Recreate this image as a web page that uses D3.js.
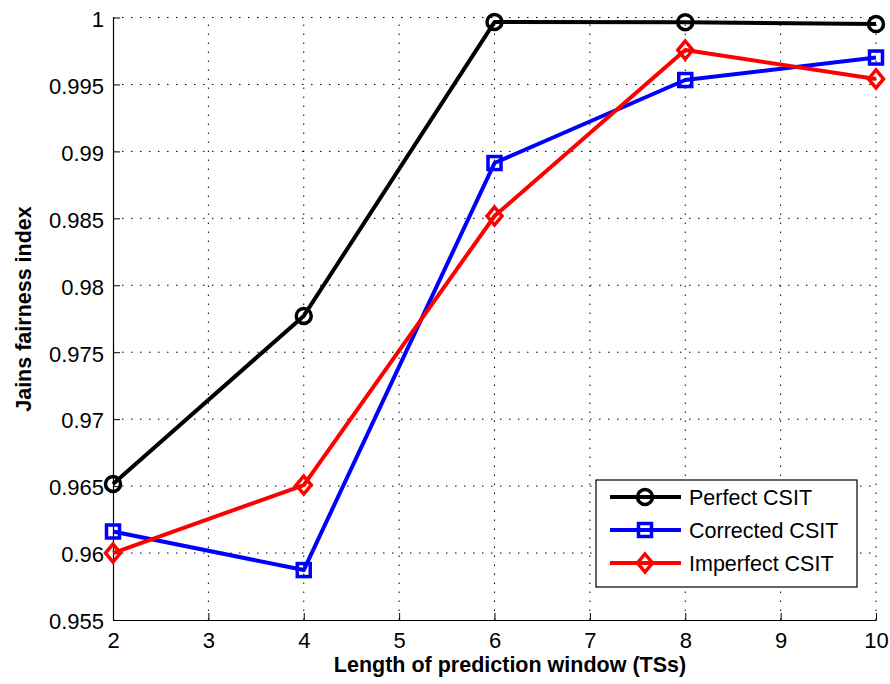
<!DOCTYPE html>
<html><head><meta charset="utf-8">
<script src="https://cdn.jsdelivr.net/npm/d3@7"></script>
<style>body{margin:0;background:#fff}svg{display:block}text{font-family:"Liberation Sans",Arial,sans-serif}</style>
</head><body>
<svg id="c" width="890" height="684"></svg>
<script>
const xValues = [2, 4, 6, 8, 10];
const perfectCSIT = [0.96516, 0.97771, 0.99966, 0.99965, 0.99951];
const correctedCSIT = [0.96161, 0.95873, 0.98913, 0.99533, 0.99701];
const imperfectCSIT = [0.96000, 0.96508, 0.98517, 0.99757, 0.99541];
const xTicks = [2, 3, 4, 5, 6, 7, 8, 9, 10];
const yTicks = [0.955, 0.96, 0.965, 0.97, 0.975, 0.98, 0.985, 0.99, 0.995, 1];
const seriesNames = ["Perfect CSIT", "Corrected CSIT", "Imperfect CSIT"];
const seriesColors = ["#000000", "#0000ff", "#ff0000"];
const seriesMarkers = ["circle", "square", "diamond"];

const svg = d3.select("#c");
const L = 113, R = 876, T = 17.5, B = 620;
const x = d3.scaleLinear().domain([2, 10]).range([L, R]);
const y = d3.scaleLinear().domain([0.955, 1]).range([B, T]);

// grid
const g = svg.append("g");
g.selectAll(".gx").data(xTicks.slice(1)).join("line")
  .attr("x1", d => x(d)).attr("x2", d => x(d)).attr("y1", B).attr("y2", T)
  .attr("stroke", "#000").attr("stroke-width", 1).attr("stroke-dasharray", "1.5,7.5");
g.selectAll(".gy").data(yTicks.slice(1)).join("line")
  .attr("y1", d => y(d)).attr("y2", d => y(d)).attr("x1", L).attr("x2", R)
  .attr("stroke", "#000").attr("stroke-width", 1).attr("stroke-dasharray", "1.5,7.5");

// axes
const xAxis = d3.axisBottom(x).tickValues(xTicks).tickSizeInner(-7).tickSizeOuter(0).tickPadding(12).tickFormat(d3.format("d"));
const yAxis = d3.axisLeft(y).tickValues(yTicks).tickSizeInner(-7).tickSizeOuter(0).tickPadding(9).tickFormat(d => d === 1 ? "1" : d3.format(".3~f")(d));
const gx = svg.append("g").attr("transform", `translate(0,${B})`).call(xAxis);
const gy = svg.append("g").attr("transform", `translate(${L},0)`).call(yAxis);
[gx, gy].forEach(a => {
  a.selectAll("text").attr("font-size", 22).attr("fill", "#000").attr("font-family", "Liberation Sans, Arial, sans-serif");
  a.select(".domain").attr("stroke", "#000").attr("stroke-width", 1.2);
  a.selectAll(".tick line").attr("stroke", "#000");
});
gx.selectAll("text").attr("dy", "0.71em");
gy.selectAll("text").attr("dy", "0.4em");

svg.append("text").attr("x", 510).attr("y", 672).attr("text-anchor", "middle")
  .attr("font-size", 21.5).attr("font-weight", "bold").text("Length of prediction window (TSs)");
svg.append("text").attr("transform", `translate(31,309) rotate(-90)`).attr("text-anchor", "middle")
  .attr("font-size", 21.5).attr("font-weight", "bold").text("Jains fairness index");

const allSeries = [perfectCSIT, correctedCSIT, imperfectCSIT];
const line = d3.line().x((d, i) => x(xValues[i])).y(d => y(d));

function drawMarker(sel, type, cx, cy, color) {
  if (type === "circle") sel.append("circle").attr("cx", cx).attr("cy", cy).attr("r", 7.5)
    .attr("fill", "none").attr("stroke", color).attr("stroke-width", 3.5);
  else if (type === "square") sel.append("rect").attr("x", cx - 6.5).attr("y", cy - 6.5).attr("width", 13).attr("height", 13)
    .attr("fill", "none").attr("stroke", color).attr("stroke-width", 3.5);
  else sel.append("path").attr("d", `M${cx},${cy - 9}L${cx + 7.5},${cy}L${cx},${cy + 9}L${cx - 7.5},${cy}Z`)
    .attr("fill", "none").attr("stroke", color).attr("stroke-width", 3.5);
}

const plot = svg.append("g");
allSeries.forEach((s, k) => {
  plot.append("path").datum(s).attr("d", line).attr("fill", "none")
    .attr("stroke", seriesColors[k]).attr("stroke-width", 4).attr("stroke-linejoin", "round");
  s.forEach((v, i) => drawMarker(plot, seriesMarkers[k], x(xValues[i]), y(v), seriesColors[k]));
});

// legend
const lg = svg.append("g");
lg.append("rect").attr("x", 596).attr("y", 480).attr("width", 261).attr("height", 107)
  .attr("fill", "#fff").attr("stroke", "#000").attr("stroke-width", 1.2);
seriesNames.forEach((n, k) => {
  const yy = 497 + k * 33;
  lg.append("line").attr("x1", 610).attr("x2", 681).attr("y1", yy).attr("y2", yy)
    .attr("stroke", seriesColors[k]).attr("stroke-width", 4);
  drawMarker(lg, seriesMarkers[k], 645, yy, seriesColors[k]);
  lg.append("text").attr("x", 689).attr("y", yy).attr("dy", "0.36em").attr("font-size", 21.5).text(n);
});
</script>
</body></html>
